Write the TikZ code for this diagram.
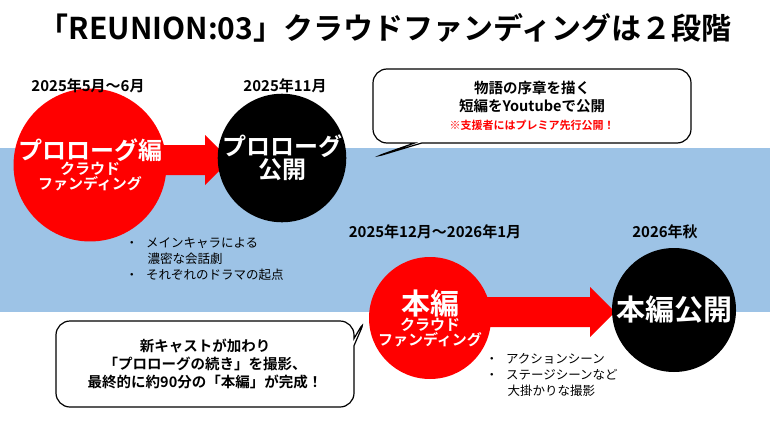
\documentclass[tikz,border=0pt]{standalone}
\usepackage{fontspec}
\setmainfont{Noto Sans CJK JP}[BoldFont={Noto Sans CJK JP Bold}]
\usetikzlibrary{shapes.callouts,arrows.meta}
\definecolor{band}{HTML}{9DC3E6}
\definecolor{myred}{HTML}{FF0000}
\newcommand{\fa}{\fontsize{24}{28}\selectfont}
\newcommand{\fb}{\fontsize{15}{18}\selectfont}
\newcommand{\fc}{\fontsize{29}{32}\selectfont}
\begin{document}
\begin{tikzpicture}[x=1pt,y=-1pt,
  redc/.style={circle,fill=myred,minimum size=116pt,inner sep=0pt,align=center,text=white,font=\bfseries},
  blkc/.style={circle,fill=black,minimum size=116pt,inner sep=0pt,align=center,text=white,font=\bfseries},
  date/.style={font=\bfseries\fontsize{15}{17}\selectfont},
  bul/.style={font=\fontsize{12.5}{16}\selectfont,align=left,anchor=north west},
  bub/.style={rectangle callout,rounded corners=14pt,draw=black,line width=1.2pt,fill=white,align=center,font=\bfseries\fontsize{14.5}{18}\selectfont}]
\useasboundingbox (0,0) rectangle (770,433);
\fill[white] (0,0) rectangle (770,433);
\fill[band] (0,148) rectangle (770,312);
\node[font=\bfseries\fontsize{30}{34}\selectfont] (title) at (385,28) {「REUNION:03」クラウドファンディングは２段階};
\fill[myred] (140,145) -- (205,145) -- (205,135) -- (230,160) -- (205,185) -- (205,175) -- (140,175) -- cycle;
\fill[myred] (480,297) -- (590,297) -- (590,287) -- (615,312) -- (590,337) -- (590,327) -- (480,327) -- cycle;
\node[redc] (c1) at (90,165) {\fa プロローグ編\\\fb クラウド\\\fb ファンディング};
\node[blkc] (c2) at (282,158) {\fa プロローグ\\\fa 公開};
\node[redc,minimum size=122pt] (c3) at (430,318) {\fc 本編\\\fb クラウド\\\fb ファンディング};
\node[blkc,minimum size=124pt] (c4) at (674,310) {\fc 本編公開};
\node[date] (d1) at (88,86) {2025年5月～6月};
\node[date] (d2) at (285,86) {2025年11月};
\node[date] (d3) at (435,232) {2025年12月～2026年1月};
\node[date] (d4) at (665,232) {2026年秋};
\node[bul] (b1) at (122,234) {・\hspace{8pt}メインキャラによる\\\hspace{22pt}濃密な会話劇};
\node[bul] (b2) at (122,265) {・\hspace{8pt}それぞれのドラマの起点};
\node[bul] (b3) at (482,350) {・\hspace{8pt}アクションシーン\\・\hspace{8pt}ステージシーンなど\\\hspace{22pt}大掛かりな撮影};
\node[bub,minimum width=318pt,minimum height=74pt,callout absolute pointer={(372,158)}] (s1) at (532,106)
 {物語の序章を描く\\短編をYoutubeで公開\\\color{myred}\fontsize{11}{14}\selectfont ※支援者にはプレミア先行公開！};
\node[bub,minimum width=298pt,minimum height=86pt,callout absolute pointer={(366,318)}] (s2) at (205,364)
 {新キャストが加わり\\「プロローグの続き」を撮影、\\最終的に約90分の「本編」が完成！};
\end{tikzpicture}
\end{document}
